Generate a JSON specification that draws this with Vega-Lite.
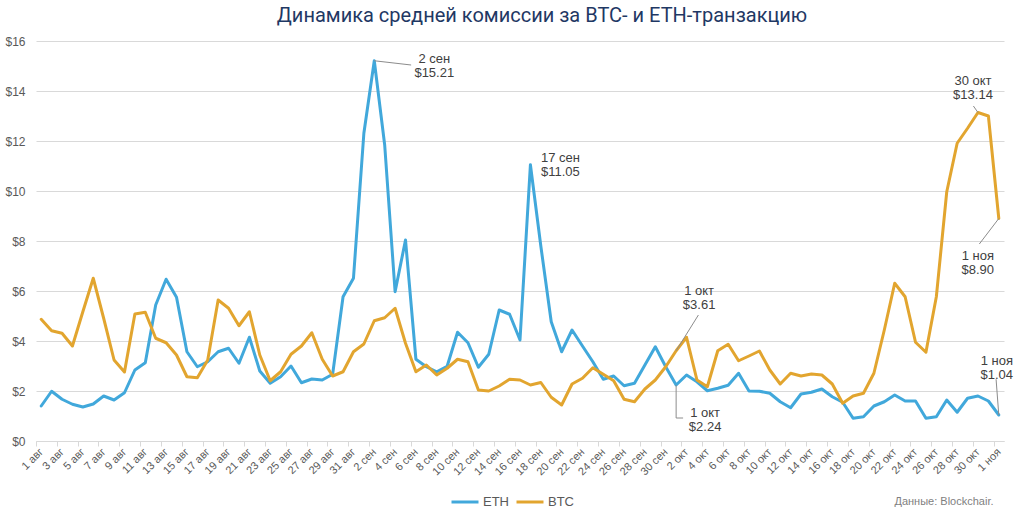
{
  "$schema": "https://vega.github.io/schema/vega-lite/v6.json",
  "width": 968,
  "height": 400,
  "autosize": {"type": "none"},
  "padding": {"left": 36, "top": 41, "right": 16, "bottom": 70},
  "background": "white",
  "title": {
    "text": "Динамика средней комиссии за BTC- и ETH-транзакцию",
    "font": "Roboto",
    "fontSize": 20,
    "fontWeight": "normal",
    "color": "#1F3864",
    "anchor": "middle",
    "dx": 22,
    "offset": 9
  },
  "config": {"view": {"stroke": null}, "font": "Liberation Sans", "axisX": {"labelOverlap": false}},
  "datasets": {
    "fees": [
      {"day": 0, "ETH": 1.40, "BTC": 4.87},
      {"day": 1, "ETH": 1.99, "BTC": 4.41},
      {"day": 2, "ETH": 1.67, "BTC": 4.31},
      {"day": 3, "ETH": 1.47, "BTC": 3.80},
      {"day": 4, "ETH": 1.36, "BTC": 5.17},
      {"day": 5, "ETH": 1.48, "BTC": 6.51},
      {"day": 6, "ETH": 1.80, "BTC": 4.91},
      {"day": 7, "ETH": 1.64, "BTC": 3.24},
      {"day": 8, "ETH": 1.93, "BTC": 2.76},
      {"day": 9, "ETH": 2.84, "BTC": 5.08},
      {"day": 10, "ETH": 3.13, "BTC": 5.15},
      {"day": 11, "ETH": 5.44, "BTC": 4.11},
      {"day": 12, "ETH": 6.47, "BTC": 3.93},
      {"day": 13, "ETH": 5.75, "BTC": 3.44},
      {"day": 14, "ETH": 3.57, "BTC": 2.57},
      {"day": 15, "ETH": 2.97, "BTC": 2.53},
      {"day": 16, "ETH": 3.17, "BTC": 3.24},
      {"day": 17, "ETH": 3.57, "BTC": 5.64},
      {"day": 18, "ETH": 3.71, "BTC": 5.31},
      {"day": 19, "ETH": 3.11, "BTC": 4.61},
      {"day": 20, "ETH": 4.15, "BTC": 5.17},
      {"day": 21, "ETH": 2.80, "BTC": 3.44},
      {"day": 22, "ETH": 2.31, "BTC": 2.41},
      {"day": 23, "ETH": 2.57, "BTC": 2.77},
      {"day": 24, "ETH": 3.00, "BTC": 3.47},
      {"day": 25, "ETH": 2.33, "BTC": 3.80},
      {"day": 26, "ETH": 2.48, "BTC": 4.33},
      {"day": 27, "ETH": 2.44, "BTC": 3.27},
      {"day": 28, "ETH": 2.67, "BTC": 2.60},
      {"day": 29, "ETH": 5.77, "BTC": 2.77},
      {"day": 30, "ETH": 6.51, "BTC": 3.57},
      {"day": 31, "ETH": 12.31, "BTC": 3.88},
      {"day": 32, "ETH": 15.21, "BTC": 4.81},
      {"day": 33, "ETH": 11.84, "BTC": 4.93},
      {"day": 34, "ETH": 5.97, "BTC": 5.31},
      {"day": 35, "ETH": 8.04, "BTC": 3.91},
      {"day": 36, "ETH": 3.27, "BTC": 2.77},
      {"day": 37, "ETH": 2.97, "BTC": 3.04},
      {"day": 38, "ETH": 2.77, "BTC": 2.64},
      {"day": 39, "ETH": 2.99, "BTC": 2.91},
      {"day": 40, "ETH": 4.35, "BTC": 3.27},
      {"day": 41, "ETH": 3.93, "BTC": 3.17},
      {"day": 42, "ETH": 2.95, "BTC": 2.04},
      {"day": 43, "ETH": 3.47, "BTC": 2.00},
      {"day": 44, "ETH": 5.24, "BTC": 2.20},
      {"day": 45, "ETH": 5.07, "BTC": 2.47},
      {"day": 46, "ETH": 4.04, "BTC": 2.44},
      {"day": 47, "ETH": 11.05, "BTC": 2.24},
      {"day": 48, "ETH": 7.80, "BTC": 2.34},
      {"day": 49, "ETH": 4.77, "BTC": 1.75},
      {"day": 50, "ETH": 3.57, "BTC": 1.44},
      {"day": 51, "ETH": 4.44, "BTC": 2.28},
      {"day": 52, "ETH": 3.80, "BTC": 2.51},
      {"day": 53, "ETH": 3.17, "BTC": 2.93},
      {"day": 54, "ETH": 2.47, "BTC": 2.67},
      {"day": 55, "ETH": 2.60, "BTC": 2.41},
      {"day": 56, "ETH": 2.21, "BTC": 1.67},
      {"day": 57, "ETH": 2.31, "BTC": 1.57},
      {"day": 58, "ETH": 3.04, "BTC": 2.08},
      {"day": 59, "ETH": 3.77, "BTC": 2.44},
      {"day": 60, "ETH": 2.97, "BTC": 2.97},
      {"day": 61, "ETH": 2.24, "BTC": 3.61},
      {"day": 62, "ETH": 2.64, "BTC": 4.15},
      {"day": 63, "ETH": 2.37, "BTC": 2.44},
      {"day": 64, "ETH": 2.01, "BTC": 2.17},
      {"day": 65, "ETH": 2.11, "BTC": 3.61},
      {"day": 66, "ETH": 2.23, "BTC": 3.87},
      {"day": 67, "ETH": 2.71, "BTC": 3.21},
      {"day": 68, "ETH": 2.00, "BTC": 3.40},
      {"day": 69, "ETH": 1.99, "BTC": 3.60},
      {"day": 70, "ETH": 1.91, "BTC": 2.84},
      {"day": 71, "ETH": 1.57, "BTC": 2.28},
      {"day": 72, "ETH": 1.33, "BTC": 2.71},
      {"day": 73, "ETH": 1.88, "BTC": 2.60},
      {"day": 74, "ETH": 1.95, "BTC": 2.68},
      {"day": 75, "ETH": 2.08, "BTC": 2.64},
      {"day": 76, "ETH": 1.77, "BTC": 2.28},
      {"day": 77, "ETH": 1.55, "BTC": 1.51},
      {"day": 78, "ETH": 0.91, "BTC": 1.80},
      {"day": 79, "ETH": 0.97, "BTC": 1.91},
      {"day": 80, "ETH": 1.40, "BTC": 2.71},
      {"day": 81, "ETH": 1.57, "BTC": 4.44},
      {"day": 82, "ETH": 1.84, "BTC": 6.31},
      {"day": 83, "ETH": 1.60, "BTC": 5.77},
      {"day": 84, "ETH": 1.60, "BTC": 3.95},
      {"day": 85, "ETH": 0.91, "BTC": 3.55},
      {"day": 86, "ETH": 0.97, "BTC": 5.77},
      {"day": 87, "ETH": 1.64, "BTC": 9.97},
      {"day": 88, "ETH": 1.15, "BTC": 11.91},
      {"day": 89, "ETH": 1.71, "BTC": 12.51},
      {"day": 90, "ETH": 1.80, "BTC": 13.14},
      {"day": 91, "ETH": 1.60, "BTC": 13.00},
      {"day": 92, "ETH": 1.04, "BTC": 8.90}
    ],
    "notes": [
      {"day": 32, "coin": "ETH", "fee": 15.21, "note": "2 сен\n$15.21"},
      {"day": 47, "coin": "ETH", "fee": 11.05, "note": "17 сен\n$11.05"},
      {"day": 61, "coin": "BTC", "fee": 3.61, "note": "1 окт\n$3.61"},
      {"day": 61, "coin": "ETH", "fee": 2.24, "note": "1 окт\n$2.24"},
      {"day": 90, "coin": "BTC", "fee": 13.14, "note": "30 окт\n$13.14"},
      {"day": 92, "coin": "BTC", "fee": 8.90, "note": "1 ноя\n$8.90"},
      {"day": 92, "coin": "ETH", "fee": 1.04, "note": "1 ноя\n$1.04"}
    ]
  },
  "encoding": {
    "x": {
      "field": "day",
      "type": "quantitative",
      "title": "Данные: Blockchair.",
      "scale": {"domain": [-0.5, 92.5], "nice": false, "zero": false},
      "axis": {
        "values": [0, 2, 4, 6, 8, 10, 12, 14, 16, 18, 20, 22, 24, 26, 28, 30, 32, 34, 36, 38, 40, 42, 44, 46, 48, 50, 52, 54, 56, 58, 60, 62, 64, 66, 68, 70, 72, 74, 76, 78, 80, 82, 84, 86, 88, 90, 92],
        "labelExpr": "date(datetime(2023, 7, 1 + datum.value)) + ' ' + ['янв','фев','мар','апр','май','июн','июл','авг','сен','окт','ноя','дек'][month(datetime(2023, 7, 1 + datum.value))]",
        "labelAngle": -45,
        "labelAlign": "right",
        "labelBaseline": "middle",
        "labelFontSize": 11,
        "labelColor": "#595959",
        "labelPadding": 4,
        "labelOverlap": false,
        "labelFlush": false,
        "labelBound": false,
        "tickOffset": -5.2,
        "labelOffset": 5.2,
        "tickColor": "#D9D9D9",
        "tickSize": 5,
        "domainColor": "#D9D9D9",
        "grid": false,
        "titleAnchor": "end",
        "titleAlign": "right",
        "titleBaseline": "middle",
        "titleFontSize": 11,
        "titleFontWeight": "normal",
        "titleColor": "#7F7F7F",
        "titleX": 957,
        "titleY": 60
      }
    },
    "y": {
      "field": "fee",
      "type": "quantitative",
      "title": null,
      "scale": {"domain": [0, 16], "nice": false},
      "axis": {
        "values": [0, 2, 4, 6, 8, 10, 12, 14, 16],
        "labelExpr": "'$' + datum.value",
        "domain": false,
        "ticks": false,
        "labelPadding": 11,
        "labelFontSize": 12,
        "labelColor": "#595959",
        "gridColor": "#D9D9D9"
      }
    }
  },
  "layer": [
    {
      "data": {"name": "fees"},
      "transform": [{"fold": ["ETH", "BTC"], "as": ["coin", "fee"]}],
      "mark": {"type": "line", "strokeWidth": 3, "strokeJoin": "round", "strokeCap": "round"},
      "encoding": {
        "color": {
          "field": "coin",
          "type": "nominal",
          "scale": {"domain": ["ETH", "BTC"], "range": ["#41A8DB", "#E2A52F"]},
          "legend": {
            "title": null,
            "orient": "none",
            "legendX": 414,
            "legendY": 446,
            "direction": "horizontal",
            "padding": 0,
            "symbolType": "stroke",
            "symbolSize": 729,
            "symbolStrokeWidth": 3,
            "labelFontSize": 13,
            "labelColor": "#595959",
            "columnPadding": 1,
            "labelOffset": 3
          }
        }
      }
    },
    {
      "data": {"name": "notes"},
      "transform": [{"filter": "datum.day == 32"}],
      "mark": {"type": "text", "lineBreak": "\n", "fontSize": 13, "lineHeight": 14, "color": "#404040", "align": "center", "baseline": "middle", "dx": 60, "dy": -2},
      "encoding": {"text": {"field": "note"}}
    },
    {
      "data": {"name": "notes"},
      "transform": [{"filter": "datum.day == 47"}],
      "mark": {"type": "text", "lineBreak": "\n", "fontSize": 13, "lineHeight": 14, "color": "#404040", "align": "center", "baseline": "middle", "dx": 30, "dy": -7},
      "encoding": {"text": {"field": "note"}}
    },
    {
      "data": {"name": "notes"},
      "transform": [{"filter": "datum.day == 61 && datum.coin == 'BTC'"}],
      "mark": {"type": "text", "lineBreak": "\n", "fontSize": 13, "lineHeight": 14, "color": "#404040", "align": "center", "baseline": "middle", "dx": 23, "dy": -60},
      "encoding": {"text": {"field": "note"}}
    },
    {
      "data": {"name": "notes"},
      "transform": [{"filter": "datum.day == 61 && datum.coin == 'ETH'"}],
      "mark": {"type": "text", "lineBreak": "\n", "fontSize": 13, "lineHeight": 14, "color": "#404040", "align": "center", "baseline": "middle", "dx": 29, "dy": 28},
      "encoding": {"text": {"field": "note"}}
    },
    {
      "data": {"name": "notes"},
      "transform": [{"filter": "datum.day == 90"}],
      "mark": {"type": "text", "lineBreak": "\n", "fontSize": 13, "lineHeight": 14, "color": "#404040", "align": "center", "baseline": "middle", "dx": -5, "dy": -32},
      "encoding": {"text": {"field": "note"}}
    },
    {
      "data": {"name": "notes"},
      "transform": [{"filter": "datum.day == 92 && datum.coin == 'BTC'"}],
      "mark": {"type": "text", "lineBreak": "\n", "fontSize": 13, "lineHeight": 14, "color": "#404040", "align": "center", "baseline": "middle", "dx": -21, "dy": 37},
      "encoding": {"text": {"field": "note"}}
    },
    {
      "data": {"name": "notes"},
      "transform": [{"filter": "datum.day == 92 && datum.coin == 'ETH'"}],
      "mark": {"type": "text", "lineBreak": "\n", "fontSize": 13, "lineHeight": 14, "color": "#404040", "align": "center", "baseline": "middle", "dx": -2, "dy": -54},
      "encoding": {"text": {"field": "note"}}
    },
    {
      "data": {"name": "notes"},
      "transform": [{"filter": "datum.day == 32"}],
      "mark": {"type": "rule", "color": "#8C8C8C", "strokeWidth": 1},
      "encoding": {"x2": {"datum": 35.54}, "y2": {"datum": 15.04}}
    },
    {
      "data": {"name": "notes"},
      "transform": [{"filter": "datum.day == 61 && datum.coin == 'BTC'"}],
      "mark": {"type": "rule", "color": "#8C8C8C", "strokeWidth": 1},
      "encoding": {"x2": {"datum": 63.14}, "y2": {"datum": 5.04}}
    },
    {
      "data": {"name": "notes"},
      "transform": [{"filter": "datum.day == 61 && datum.coin == 'ETH'"}],
      "mark": {"type": "rule", "color": "#8C8C8C", "strokeWidth": 1},
      "encoding": {"y2": {"datum": 0.92}}
    },
    {
      "data": {"name": "notes"},
      "transform": [{"filter": "datum.day == 61 && datum.coin == 'ETH'"}],
      "mark": {"type": "rule", "color": "#8C8C8C", "strokeWidth": 1},
      "encoding": {"x2": {"datum": 61.67}, "y": {"datum": 0.92, "type": "quantitative"}}
    },
    {
      "data": {"name": "notes"},
      "transform": [{"filter": "datum.day == 90"}],
      "mark": {"type": "rule", "color": "#8C8C8C", "strokeWidth": 1},
      "encoding": {"x2": {"datum": 89.56}, "y2": {"datum": 13.4}}
    },
    {
      "data": {"name": "notes"},
      "transform": [{"filter": "datum.day == 92 && datum.coin == 'BTC'"}],
      "mark": {"type": "rule", "color": "#8C8C8C", "strokeWidth": 1},
      "encoding": {"x2": {"datum": 90.13}, "y2": {"datum": 7.88}}
    },
    {
      "data": {"name": "notes"},
      "transform": [{"filter": "datum.day == 92 && datum.coin == 'ETH'"}],
      "mark": {"type": "rule", "color": "#8C8C8C", "strokeWidth": 1},
      "encoding": {"x2": {"datum": 91.74}, "y2": {"datum": 2.47}}
    }
  ]
}
